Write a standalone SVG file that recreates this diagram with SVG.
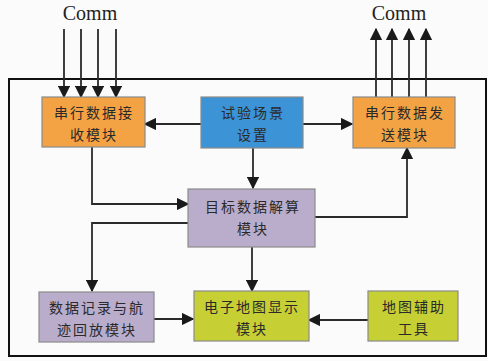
<svg xmlns="http://www.w3.org/2000/svg" width="488" height="361" viewBox="0 0 488 361">
<style>
.frame{fill:none;stroke:#111;stroke-width:2}
.box{stroke:#8a8a8a;stroke-width:1.2}
.orange{fill:#F3A244}
.blue{fill:#3C93D5}
.purple{fill:#B9ADCB}
.green{fill:#C6D034}
.t{font-family:"Noto Sans CJK SC","Noto Sans CJK JP",sans-serif;font-size:14px;fill:#2a2a2a;text-anchor:middle;letter-spacing:2px}
.comm{font-family:"Liberation Serif",serif;font-size:20px;fill:#222;text-anchor:middle}
.c{fill:none;stroke:#2a2a2a;stroke-width:1.8}
</style>
<defs>
<marker id="ah2" viewBox="0 0 10 10" refX="9" refY="5" markerWidth="7" markerHeight="7" orient="auto">
<path d="M0,0 L10,5 L0,10 z" fill="#1a1a1a"/>
</marker>
</defs>
<rect width="488" height="361" fill="#fbfbfb"/>
<rect class="frame" x="9" y="79" width="477" height="277"/>
<text class="comm" x="90" y="20">Comm</text>
<text class="comm" x="399" y="20">Comm</text>
<g id="connectors">
<path class="c" d="M64,29 V97" marker-end="url(#ah2)"/>
<path class="c" d="M81,29 V97" marker-end="url(#ah2)"/>
<path class="c" d="M98,29 V97" marker-end="url(#ah2)"/>
<path class="c" d="M116,29 V97" marker-end="url(#ah2)"/>
<path class="c" d="M376,97 V29" marker-end="url(#ah2)"/>
<path class="c" d="M392,97 V29" marker-end="url(#ah2)"/>
<path class="c" d="M409,97 V29" marker-end="url(#ah2)"/>
<path class="c" d="M426,97 V29" marker-end="url(#ah2)"/>
<path class="c" d="M201,124 H145" marker-end="url(#ah2)"/>
<path class="c" d="M303,124 H352" marker-end="url(#ah2)"/>
<path class="c" d="M253,148 V188" marker-end="url(#ah2)"/>
<path class="c" d="M92,147 V204 H188" marker-end="url(#ah2)"/>
<path class="c" d="M188,223 H92 V291" marker-end="url(#ah2)"/>
<path class="c" d="M315,217 H407 V148" marker-end="url(#ah2)"/>
<path class="c" d="M252,247 V291" marker-end="url(#ah2)"/>
<path class="c" d="M154,319 H193" marker-end="url(#ah2)"/>
<path class="c" d="M368,320 H309" marker-end="url(#ah2)"/>
</g>
<g id="recv">
<rect class="box orange" x="42" y="97" width="103" height="50"/>
<text class="t" x="94" y="118">串行数据接</text>
<text class="t" x="94" y="140">收模块</text>
</g>
<g id="setup">
<rect class="box blue" x="201" y="97" width="102" height="51"/>
<text class="t" x="253" y="118">试验场景</text>
<text class="t" x="253" y="140">设置</text>
</g>
<g id="send">
<rect class="box orange" x="353" y="97" width="102" height="51"/>
<text class="t" x="405" y="118">串行数据发</text>
<text class="t" x="405" y="140">送模块</text>
</g>
<g id="target">
<rect class="box purple" x="188" y="189" width="127" height="58"/>
<text class="t" x="253" y="212">目标数据解算</text>
<text class="t" x="253" y="234">模块</text>
</g>
<g id="record">
<rect class="box purple" x="39" y="292" width="115" height="50"/>
<text class="t" x="97" y="313">数据记录与航</text>
<text class="t" x="97" y="335">迹回放模块</text>
</g>
<g id="mapdisplay">
<rect class="box green" x="194" y="291" width="115" height="50"/>
<text class="t" x="252" y="312">电子地图显示</text>
<text class="t" x="252" y="334">模块</text>
</g>
<g id="maptool">
<rect class="box green" x="368" y="291" width="90" height="50"/>
<text class="t" x="414" y="312">地图辅助</text>
<text class="t" x="414" y="334">工具</text>
</g>
</svg>
